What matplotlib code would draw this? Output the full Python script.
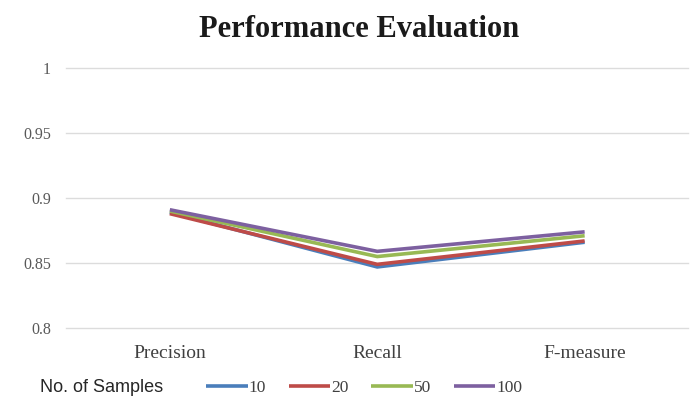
import matplotlib
matplotlib.use("Agg")
import matplotlib.pyplot as plt

# Performance metrics per number of samples
metrics = ["Precision", "Recall", "F-measure"]
sample_sizes = ["10", "20", "50", "100"]
scores_10 = [0.889, 0.847, 0.866]
scores_20 = [0.888, 0.849, 0.867]
scores_50 = [0.890, 0.855, 0.871]
scores_100 = [0.891, 0.859, 0.874]
yticks = [0.8, 0.85, 0.9, 0.95, 1]
ytick_labels = ["0.8", "0.85", "0.9", "0.95", "1"]

colors = ["#4A7EBB", "#BE4B48", "#98B954", "#7D60A0"]
series = [scores_10, scores_20, scores_50, scores_100]

fig = plt.figure(figsize=(6.96, 4.05), dpi=100)
ax = fig.add_axes([0.095, 0.19, 0.894, 0.642])

x = range(len(metrics))
handles = []
for vals, col, lab in zip(series, colors, sample_sizes):
    h, = ax.plot(x, vals, color=col, linewidth=2.6, solid_capstyle="butt",
                 solid_joinstyle="miter", label=lab)
    handles.append(h)

ax.set_xlim(-0.5, 2.5)
ax.set_ylim(0.8, 1.0)
ax.set_yticks(yticks)
ax.set_yticklabels(ytick_labels)
ax.set_xticks(list(x))
ax.set_xticklabels(metrics)
ax.grid(axis="y", color="#DCDCDC", linewidth=1.0)
for gl in ax.get_ygridlines():
    gl.set_clip_on(False)
ax.set_axisbelow(True)
for s in ax.spines.values():
    s.set_visible(False)
ax.tick_params(length=0)
ax.tick_params(axis="y", pad=11)
ax.tick_params(axis="x", pad=12)
for t in ax.get_yticklabels():
    t.set_fontfamily("Liberation Serif")
    t.set_fontsize(11.5)
    t.set_color("#595959")
for t in ax.get_xticklabels():
    t.set_fontfamily("Liberation Serif")
    t.set_fontsize(14)
    t.set_color("#404040")

fig.text(0.516, 0.928, "Performance Evaluation", ha="center", va="center",
         fontfamily="Liberation Serif", fontweight="bold", fontsize=22,
         color="#1a1a1a")

fig.text(0.058, 0.044, "No. of Samples", ha="left", va="center",
         fontfamily="Liberation Sans", fontsize=13, color="#262626")

fig.legend(handles=handles, labels=sample_sizes, ncol=4, frameon=False,
           loc="center left", bbox_to_anchor=(0.274, 0.042),
           handlelength=2.4, handletextpad=0.05, columnspacing=1.3,
           prop={"family": "Liberation Serif", "size": 12.5},
           labelcolor="#404040")

fig.savefig("out.png", dpi=100, facecolor="white")
